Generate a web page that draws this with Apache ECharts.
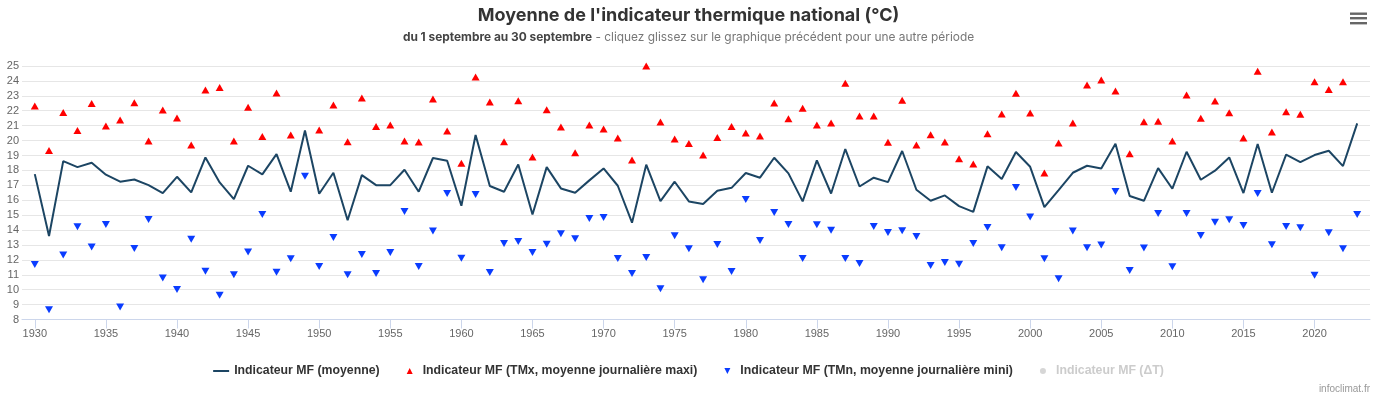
<!DOCTYPE html>
<html>
<head>
<meta charset="utf-8">
<script src="https://cdn.jsdelivr.net/npm/echarts@6/dist/echarts.min.js"></script>
<style>
html, body { margin: 0; padding: 0; background: #fff; }
#chart { width: 1377px; height: 398px; }
</style>
</head>
<body>
<div id="chart"></div>
<script>
// annees 1930 -> 2023
var firstYear = 1930;
var yearTicks = [1930, 1935, 1940, 1945, 1950, 1955, 1960, 1965, 1970, 1975, 1980, 1985, 1990, 1995, 2000, 2005, 2010, 2015, 2020];

var moyenne = [
    17.75, 13.6, 18.62, 18.22, 18.51, 17.71, 17.24, 17.39, 17.01, 16.48,
    17.57, 16.52, 18.87, 17.19, 16.07, 18.31, 17.73, 19.09, 16.57, 20.68,
    16.43, 17.84, 14.66, 17.68, 17.01, 17.01, 18.04, 16.57, 18.83, 18.65,
    15.63, 20.37, 16.95, 16.57, 18.40, 15.04, 18.22, 16.79, 16.50, 17.33,
    18.13, 16.97, 14.49, 18.38, 15.94, 17.24, 15.92, 15.74, 16.63, 16.83,
    17.82, 17.51, 18.85, 17.80, 15.92, 18.67, 16.45, 19.43, 16.92, 17.51,
    17.21, 19.30, 16.70, 15.96, 16.32, 15.60, 15.22, 18.27, 17.42, 19.23,
    18.24, 15.54, 16.68, 17.84, 18.31, 18.13, 19.79, 16.28, 15.96, 18.15,
    16.77, 19.25, 17.37, 17.98, 18.87, 16.48, 19.77, 16.50, 19.05, 18.56,
    19.03, 19.32, 18.29, 21.15
];

var tmx = [
    22.32, 19.34, 21.89, 20.68, 22.49, 20.97, 21.38, 22.54, 19.97, 22.05,
    21.51, 19.70, 23.39, 23.55, 19.97, 22.23, 20.28, 23.19, 20.37, 25.04,
    20.70, 22.38, 19.92, 22.85, 20.95, 21.04, 19.97, 19.90, 22.79, 20.64,
    18.47, 24.26, 22.58, 19.92, 22.67, 18.89, 22.07, 20.91, 19.18, 21.04,
    20.77, 20.17, 18.69, 25.00, 21.24, 20.10, 19.81, 19.03, 20.21, 20.95,
    20.50, 20.30, 22.52, 21.47, 22.16, 21.04, 21.17, 23.84, 21.64, 21.64,
    19.88, 22.70, 19.70, 20.39, 19.90, 18.78, 18.42, 20.46, 21.78, 23.17,
    21.85, 17.82, 19.83, 21.17, 23.72, 24.06, 23.32, 19.12, 21.26, 21.29,
    19.97, 23.05, 21.49, 22.65, 21.87, 20.17, 24.64, 20.57, 21.94, 21.76,
    23.95, 23.43, 23.95, 25.11
];

var tmn = [
    11.69, 8.65, 12.32, 14.22, 12.87, 14.37, 8.83, 12.76, 14.71, 10.79,
    10.01, 13.39, 11.24, 9.63, 11.00, 12.52, 15.04, 11.17, 12.07, 17.60,
    11.55, 13.50, 11.00, 12.36, 11.09, 12.49, 15.25, 11.55, 13.93, 16.45,
    12.11, 16.39, 11.15, 13.10, 13.23, 12.49, 13.05, 13.75, 13.41, 14.78,
    14.84, 12.09, 11.09, 12.16, 10.06, 13.61, 12.74, 10.66, 13.03, 11.22,
    16.05, 13.30, 15.18, 14.37, 12.09, 14.35, 13.99, 12.09, 11.76, 14.24,
    13.84, 13.95, 13.57, 11.62, 11.82, 11.71, 13.10, 14.17, 12.81, 16.86,
    14.87, 12.07, 10.73, 13.93, 12.81, 12.99, 16.59, 11.29, 12.79, 15.11,
    11.53, 15.11, 13.64, 14.53, 14.69, 14.31, 16.45, 13.01, 14.24, 14.15,
    10.97, 13.81, 12.74, 15.04
];

function pairs(values) {
    return values.map(function (v, i) { return [firstYear + i, v]; });
}

var chart = echarts.init(document.getElementById('chart'));

var option = {
    animation: false,
    backgroundColor: '#fff',
    title: {
        left: 'center',
        top: 0.5,
        itemGap: 5,
        text: "Moyenne de l'indicateur thermique national (°C)",
        textStyle: { fontFamily: 'Inter', fontSize: 18, fontWeight: 'bold', color: '#333', lineHeight: 20 },
        subtext: '{b|du 1 septembre au 30 septembre} {n|- cliquez glissez sur le graphique précédent pour une autre période}',
        subtextStyle: {
            fontFamily: 'Inter', fontSize: 11.9, lineHeight: 14,
            rich: {
                b: { fontFamily: 'Inter', fontSize: 11.9, fontWeight: 'bold', color: '#444' },
                n: { fontFamily: 'Inter', fontSize: 11.9, color: '#777' }
            }
        }
    },
    grid: { left: 22, right: 7, top: 66, bottom: 78.5 },
    legend: {
        top: 360,
        left: 'center',
        itemWidth: 16,
        itemHeight: 7,
        itemGap: 22,
        inactiveColor: '#ccc',
        textStyle: { fontFamily: 'Liberation Sans', fontSize: 12.3, fontWeight: 'bold', color: '#333' },
        data: [
            { name: 'Indicateur MF (moyenne)', icon: 'path://M0,0L0,0M16,7L16,7M0,2.5L16,2.5L16,4.5L0,4.5Z' },
            { name: 'Indicateur MF (TMx, moyenne journalière maxi)', icon: 'path://M0,0L0,0M16,7L16,7M5,6.5L8,0.5L11,6.5Z' },
            { name: 'Indicateur MF (TMn, moyenne journalière mini)', icon: 'path://M0,0L0,0M16,7L16,7M5,0.5L11,0.5L8,6.5Z' },
            { name: 'Indicateur MF (ΔT)', icon: 'path://M0,0L0,0M16,7L16,7M8,0.5A3,3,0,1,1,7.99,0.5Z' }
        ],
        selected: { 'Indicateur MF (ΔT)': false }
    },
    xAxis: {
        type: 'value',
        min: 1929.1,
        max: 2023.9,
        axisLine: { lineStyle: { color: '#ccd6eb' } },
        axisTick: { show: true, length: 9, customValues: yearTicks, lineStyle: { color: '#ccd6eb' } },
        axisLabel: {
            customValues: yearTicks, margin: 9, color: '#666', fontFamily: 'Liberation Sans', fontSize: 11,
            formatter: function (v) { return String(v); }
        },
        splitLine: { show: false }
    },
    yAxis: {
        type: 'value',
        min: 8,
        max: 25,
        interval: 1,
        axisLine: { show: false },
        axisTick: { show: false },
        axisLabel: { margin: 3, color: '#666', fontFamily: 'Liberation Sans', fontSize: 11 },
        splitLine: { lineStyle: { color: '#e6e6e6' } }
    },
    series: [
        {
            name: 'Indicateur MF (moyenne)',
            type: 'line',
            symbol: 'none',
            data: pairs(moyenne),
            itemStyle: { color: '#1c4563' },
            lineStyle: { color: '#1c4563', width: 2 }
        },
        {
            name: 'Indicateur MF (TMx, moyenne journalière maxi)',
            type: 'scatter',
            symbol: 'triangle',
            symbolSize: [8, 7],
            data: pairs(tmx),
            itemStyle: { color: '#ff0000', opacity: 1 }
        },
        {
            name: 'Indicateur MF (TMn, moyenne journalière mini)',
            type: 'scatter',
            symbol: 'triangle',
            symbolRotate: 180,
            symbolSize: [8, 7],
            data: pairs(tmn),
            itemStyle: { color: '#0a3cff', opacity: 1 }
        },
        {
            name: 'Indicateur MF (ΔT)',
            type: 'scatter',
            symbol: 'circle',
            data: [],
            itemStyle: { color: '#888' }
        }
    ],
    graphic: [
        { type: 'rect', shape: { x: 1350, y: 12.5, width: 17, height: 2.4 }, style: { fill: '#666' } },
        { type: 'rect', shape: { x: 1350, y: 17, width: 17, height: 2.4 }, style: { fill: '#666' } },
        { type: 'rect', shape: { x: 1350, y: 22, width: 17, height: 2.4 }, style: { fill: '#666' } },
        {
            type: 'text', x: 1370, y: 389,
            style: { text: 'infoclimat.fr', fill: '#999', font: '10px "Liberation Sans"', textAlign: 'right', textVerticalAlign: 'middle' }
        }
    ]
};
chart.setOption(option);
</script>
</body>
</html>
